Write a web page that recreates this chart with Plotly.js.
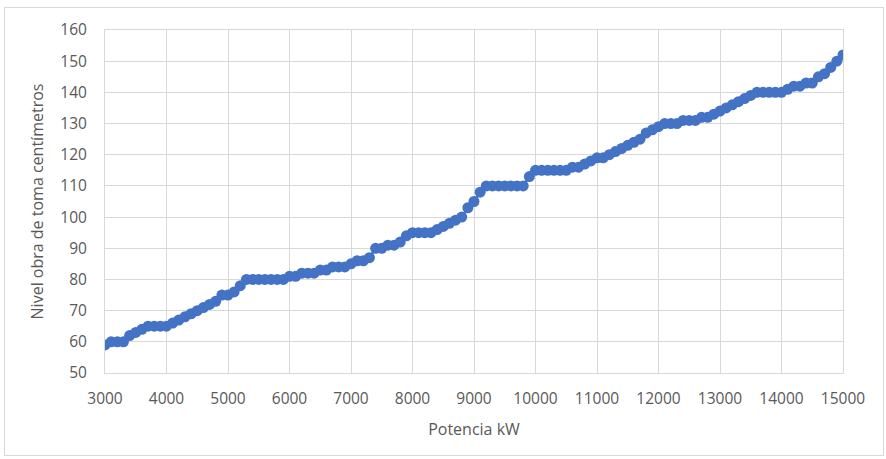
<!DOCTYPE html>
<html>
<head>
<meta charset="utf-8">
<script src="https://cdn.plot.ly/plotly-3.0.1.min.js"></script>
<style>
  html, body { margin: 0; padding: 0; background: #fff; }
  #frame { position: absolute; left: 4px; top: 7px; width: 880px; height: 449px; border: 1px solid #d9d9d9; box-sizing: border-box; }
  #chart { position: absolute; left: 0; top: 0; width: 886px; height: 459px; }
</style>
</head>
<body>
<div id="frame"></div>
<div id="chart"></div>
<script>
const potenciaKW = [];
for (let p = 3000; p <= 15000; p += 100) potenciaKW.push(p);

const nivelCm = [
  59, 60, 60, 60, 62, 63, 64, 65, 65, 65,
  65, 66, 67, 68, 69, 70, 71, 72, 73, 75,
  75, 76, 78, 80, 80, 80, 80, 80, 80, 80,
  81, 81, 82, 82, 82, 83, 83, 84, 84, 84,
  85, 86, 86, 87, 90, 90, 91, 91, 92, 94,
  95, 95, 95, 95, 96, 97, 98, 99, 100, 103,
  105, 108, 110, 110, 110, 110, 110, 110, 110, 113,
  115, 115, 115, 115, 115, 115, 116, 116, 117, 118,
  119, 119, 120, 121, 122, 123, 124, 125, 127, 128,
  129, 130, 130, 130, 131, 131, 131, 132, 132, 133,
  134, 135, 136, 137, 138, 139, 140, 140, 140, 140,
  140, 141, 142, 142, 143, 143, 145, 146, 148, 150,
  152
];

const xTitle = "Potencia kW";
const yTitle = "Nivel obra de toma centímetros";

const fontFam = "Open Sans, Noto Sans, Liberation Sans, sans-serif";
const grey = "#595959";

const trace = {
  x: potenciaKW,
  y: nivelCm,
  type: "scatter",
  mode: "lines+markers",
  line: { color: "#4472C4", width: 2.5 },
  marker: { color: "#4472C4", size: 11 },
  hoverinfo: "x+y"
};

const layout = {
  width: 886,
  height: 459,
  paper_bgcolor: "rgba(0,0,0,0)",
  plot_bgcolor: "#ffffff",
  margin: { l: 105, r: 43, t: 30, b: 86 },
  showlegend: false,
  font: { family: fontFam, color: grey, size: 15 },
  xaxis: {
    range: [3000, 15000],
    tickvals: [3000,4000,5000,6000,7000,8000,9000,10000,11000,12000,13000,14000,15000],
    ticktext: ["3000","4000","5000","6000","7000","8000","9000","10000","11000","12000","13000","14000","15000"],
    showgrid: true,
    gridcolor: "#d9d9d9",
    gridwidth: 1,
    zeroline: false,
    showline: true,
    linecolor: "#d9d9d9",
    linewidth: 1,
    mirror: true,
    ticks: "",
    ticklabelstandoff: 11,
    tickfont: { family: fontFam, color: grey, size: 15.5 },
    title: { text: xTitle, font: { family: fontFam, color: grey, size: 16 }, standoff: 16 }
  },
  yaxis: {
    range: [50, 160],
    dtick: 10,
    tick0: 50,
    showgrid: true,
    gridcolor: "#d9d9d9",
    gridwidth: 1,
    zeroline: false,
    showline: true,
    linecolor: "#d9d9d9",
    linewidth: 1,
    mirror: true,
    ticks: "",
    ticklabelstandoff: 14,
    tickfont: { family: fontFam, color: grey, size: 15.5 },
    title: { text: yTitle, font: { family: fontFam, color: grey, size: 16 }, standoff: 12 }
  }
};

Plotly.newPlot("chart", [trace], layout, { displayModeBar: false, staticPlot: true });
</script>
</body>
</html>
